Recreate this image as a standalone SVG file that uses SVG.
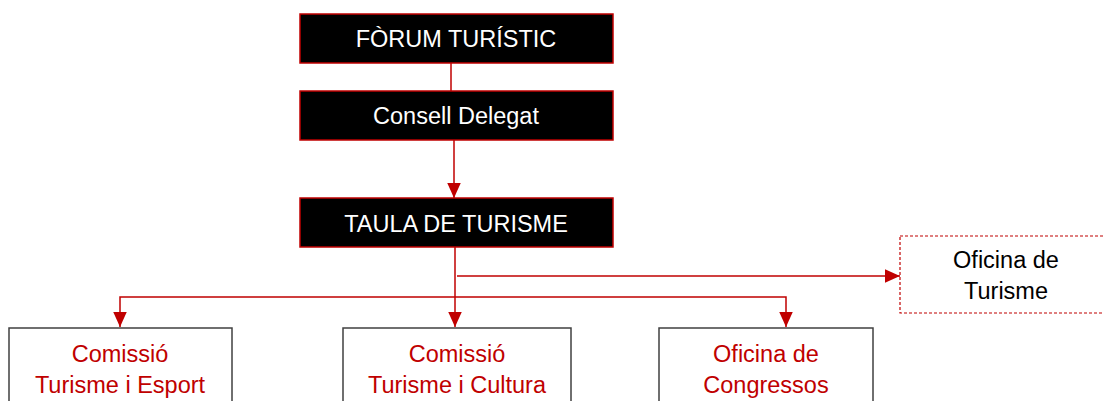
<svg xmlns="http://www.w3.org/2000/svg" width="1104" height="401" viewBox="0 0 1104 401">
<defs>
<style>
.top{fill:#000;stroke:#C00000;stroke-width:1.5}
.bot{fill:#fff;stroke:#404040;stroke-width:1.5}
.dash{fill:#fff;stroke:#C00000;stroke-width:1.2;stroke-dasharray:3,2}
.wt{font-family:"Liberation Sans",Arial,sans-serif;font-size:23.5px;fill:#fff;text-anchor:middle}
.rt{font-family:"Liberation Sans",Arial,sans-serif;font-size:23.5px;fill:#C00000;text-anchor:middle}
.bt{font-family:"Liberation Sans",Arial,sans-serif;font-size:23.5px;fill:#000;text-anchor:middle}
.c{fill:none;stroke:#C00000;stroke-width:1.5}
</style>
<marker id="ah" viewBox="0 0 10 10" refX="10" refY="5" markerWidth="15" markerHeight="15" markerUnits="userSpaceOnUse" orient="auto">
<path d="M0,0.5 L10,5 L0,9.5 z" fill="#C00000"/>
</marker>
</defs>
<g id="connectors">
<path class="c" d="M451,57 V91"/>
<path class="c" d="M454,140 V198" marker-end="url(#ah)"/>
<path class="c" d="M455,247 V327" marker-end="url(#ah)"/>
<path class="c" d="M457,276 H900" marker-end="url(#ah)"/>
<path class="c" d="M455,297 H120 V327" marker-end="url(#ah)"/>
<path class="c" d="M455,297 H786 V327" marker-end="url(#ah)"/>
</g>
<g id="forum">
<rect class="top" x="300" y="14" width="313" height="49"/>
<text class="wt" x="456" y="47">FÒRUM TURÍSTIC</text>
</g>
<g id="consell">
<rect class="top" x="300" y="91" width="313" height="49"/>
<text class="wt" x="456" y="124">Consell Delegat</text>
</g>
<g id="taula">
<rect class="top" x="300" y="198" width="313" height="49"/>
<text class="wt" x="456" y="232">TAULA DE TURISME</text>
</g>
<g id="oficina-turisme">
<rect class="dash" x="900" y="236" width="220" height="77"/>
<text class="bt" x="1006" y="268">Oficina de</text>
<text class="bt" x="1006" y="299">Turisme</text>
</g>
<g id="comissio-esport">
<rect class="bot" x="9" y="328" width="223" height="80"/>
<text class="rt" x="120" y="362">Comissió</text>
<text class="rt" x="120" y="393">Turisme i Esport</text>
</g>
<g id="comissio-cultura">
<rect class="bot" x="343" y="328" width="228" height="80"/>
<text class="rt" x="457" y="362">Comissió</text>
<text class="rt" x="457" y="393">Turisme i Cultura</text>
</g>
<g id="oficina-congressos">
<rect class="bot" x="659" y="328" width="214" height="80"/>
<text class="rt" x="766" y="362">Oficina de</text>
<text class="rt" x="766" y="393">Congressos</text>
</g>
</svg>
